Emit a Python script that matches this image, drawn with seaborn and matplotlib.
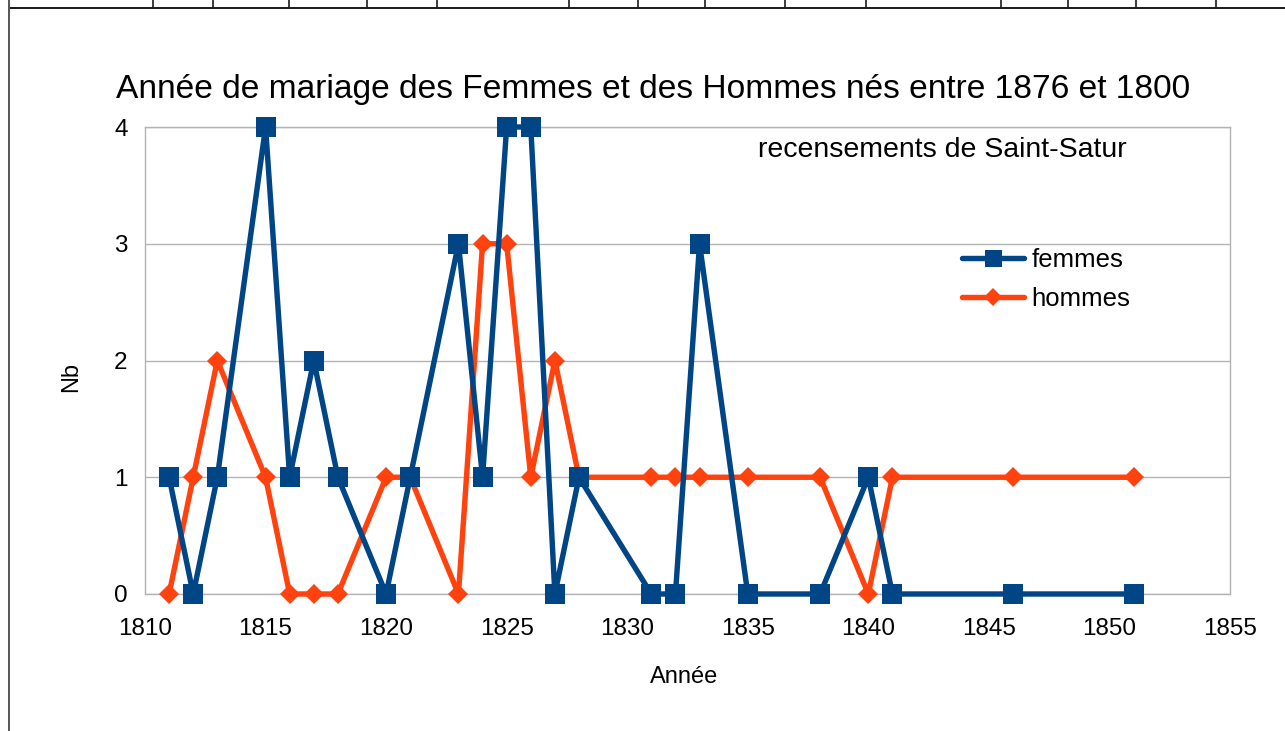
import numpy as np
import pandas as pd
import matplotlib
matplotlib.use("Agg")
import matplotlib.pyplot as plt
from matplotlib.lines import Line2D
import seaborn as sns

# ---------------- data ----------------
annees = [1811, 1812, 1813, 1815, 1816, 1817, 1818, 1820, 1821, 1823, 1824, 1825,
          1826, 1827, 1828, 1831, 1832, 1833, 1835, 1838, 1840, 1841, 1846, 1851]
femmes = [1, 0, 1, 4, 1, 2, 1, 0, 1, 3, 1, 4,
          4, 0, 1, 0, 0, 3, 0, 0, 1, 0, 0, 0]
hommes = [0, 1, 2, 1, 0, 0, 0, 1, 1, 0, 3, 3,
          1, 2, 1, 1, 1, 1, 1, 1, 0, 1, 1, 1]
series = ["femmes", "hommes"]
x_ticks = [1810, 1815, 1820, 1825, 1830, 1835, 1840, 1845, 1850, 1855]
y_ticks = [0, 1, 2, 3, 4]
titre = "Année de mariage des Femmes et des Hommes nés entre 1876 et 1800"
sous_titre = "recensements de Saint-Satur"

df = pd.DataFrame({
    "Année": annees + annees,
    "Nb": femmes + hommes,
    "serie": ["femmes"] * len(annees) + ["hommes"] * len(annees),
})

# ---------------- style ----------------
sns.set_style("white")
plt.rcParams["font.family"] = ["Liberation Sans", "DejaVu Sans"]
plt.rcParams["text.color"] = "black"
plt.rcParams["axes.labelcolor"] = "black"
plt.rcParams["xtick.color"] = "black"
plt.rcParams["ytick.color"] = "black"

W, H = 1285, 731
fig = plt.figure(figsize=(W / 100, H / 100), dpi=100)
ax = fig.add_axes([145 / W, 1 - 594 / H, 1085 / W, 467 / H])

colors = {"femmes": "#004586", "hommes": "#ff420e"}
sns.lineplot(data=df, x="Année", y="Nb", hue="serie", style="serie",
             hue_order=series, style_order=series,
             markers={"femmes": "s", "hommes": "D"}, dashes=False,
             palette=colors, linewidth=3.9, markeredgewidth=0,
             estimator=None, sort=False, legend=False, ax=ax)

for line, name in zip(ax.lines, series):
    line.set_clip_on(False)
    if name == "femmes":
        line.set_markersize(14.4)
        line.set_zorder(3.2)
    else:
        line.set_markersize(10.6)
        line.set_zorder(3.0)

ax.set_xlim(1810, 1855)
ax.set_ylim(0, 4)
ax.set_xticks(x_ticks)
ax.set_yticks(y_ticks)

grey = "#b3b3b3"
for sp in ax.spines.values():
    sp.set_visible(True)
    sp.set_color(grey)
    sp.set_linewidth(1.0)
ax.yaxis.grid(True, color=grey, linewidth=1.0)
ax.xaxis.grid(False)
ax.set_axisbelow(True)
ax.tick_params(axis="both", direction="out", length=7.5, width=1.0,
               color=grey, labelsize=17.5, labelcolor="black")
ax.tick_params(axis="x", pad=10)
ax.tick_params(axis="y", pad=5)

ax.set_xlabel("Année", fontsize=17, color="black")
ax.set_ylabel("Nb", fontsize=17, color="black")
ax.xaxis.set_label_coords(0.497, -0.155)
ax.yaxis.set_label_coords(-0.058, 0.465)

fig.text(653 / W, 1 - 98 / H, titre, ha="center", va="baseline",
         fontsize=24.1, color="black")
fig.text(942 / W, 1 - 157 / H, sous_titre, ha="center", va="baseline",
         fontsize=20.5, color="black")

leg = ax.legend(handles=list(ax.lines), labels=series, loc="center left",
                bbox_to_anchor=(962 / W, 1 - 279.5 / H),
                bbox_transform=fig.transFigure, frameon=False, fontsize=18.5,
                handlelength=2.4, handletextpad=0.3, labelspacing=0.55,
                borderpad=0, borderaxespad=0, markerscale=0.85)
for t in leg.get_texts():
    t.set_color("black")

# spreadsheet cell borders around the chart
cell_sep = [153, 213, 289, 367, 437, 569, 638, 705, 785, 866, 1001, 1068, 1136, 1216]
for xs in cell_sep:
    fig.add_artist(Line2D([xs / W, xs / W], [1, 1 - 8 / H], transform=fig.transFigure,
                          color="#1a1a1a", linewidth=1.2))
fig.add_artist(Line2D([9 / W, 1], [1 - 8 / H, 1 - 8 / H], transform=fig.transFigure,
                      color="#1a1a1a", linewidth=1.4))
fig.add_artist(Line2D([9 / W, 9 / W], [0, 1], transform=fig.transFigure,
                      color="#555555", linewidth=1.4))

fig.savefig("out.png", dpi=100)
